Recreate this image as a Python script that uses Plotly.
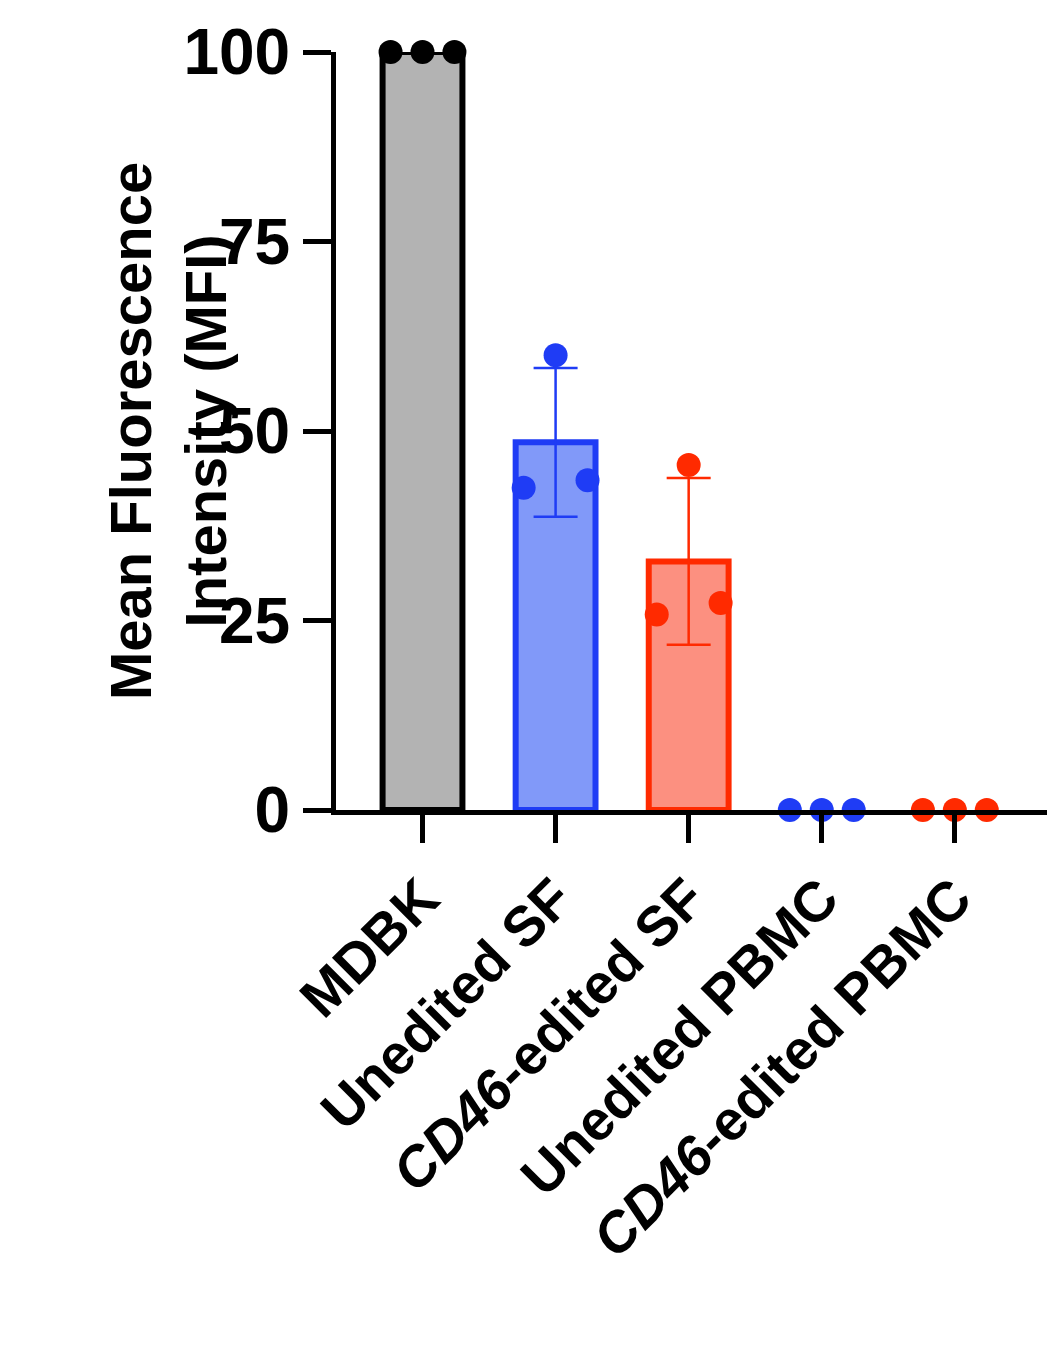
import plotly.graph_objects as go

categories = ["MDBK", "Unedited SF", "<i>CD46</i>-edited SF", "Unedited PBMC", "<i>CD46</i>-edited PBMC"]
means = [100, 48.5, 32.8, 0, 0]
sds = [0, 9.8, 11.0, 0, 0]
points = [[100, 100, 100], [42.5, 60, 43.5], [25.8, 45.5, 27.3], [0, 0, 0], [0, 0, 0]]
fills = ["#b3b3b3", "#8199f9", "#fc9080", "rgba(0,0,0,0)", "rgba(0,0,0,0)"]
lines = ["#000000", "#1f3cf5", "#ff2a00", "#1f3cf5", "#ff2a00"]

fig = go.Figure()
for i in range(len(categories)):
    if means[i] > 0:
        fig.add_trace(go.Bar(x=[i], y=[means[i]], width=0.6, marker=dict(color=fills[i], line=dict(color=lines[i], width=6)),
                             error_y=dict(type="data", array=[sds[i]], color=lines[i], thickness=2.5, width=22, visible=sds[i] > 0),
                             showlegend=False))
for i in range(len(categories)):
    fig.add_trace(go.Scatter(x=[i - 0.24, i, i + 0.24], y=points[i], mode="markers", cliponaxis=False,
                             marker=dict(color=lines[i], size=24), showlegend=False))

fig.update_layout(
    width=1055, height=1346, plot_bgcolor="white", paper_bgcolor="white",
    margin=dict(l=328, r=15, t=44, b=544),
    font=dict(family="Liberation Sans", color="black"),
    xaxis=dict(range=[-0.65, 4.7], tickvals=list(range(5)), ticktext=["<b>%s</b>" % c for c in categories],
               tickangle=-45, tickfont=dict(size=56, family="Liberation Sans"), showline=True, linecolor="black", linewidth=5,
               ticks="outside", ticklen=28, tickwidth=5, tickcolor="black", showgrid=False, zeroline=False, automargin=False),
    yaxis=dict(range=[0, 100], tickvals=[0, 25, 50, 75, 100], ticktext=["<b>%d</b>" % v for v in [0, 25, 50, 75, 100]],
               tickfont=dict(size=64, family="Liberation Sans"), showline=True, linecolor="black", linewidth=5,
               ticks="outside", ticklen=28, tickwidth=5, tickcolor="black", showgrid=False, zeroline=False, automargin=False),
    annotations=[dict(text="<b>Mean Fluorescence<br>Intensity (MFI)</b>", xref="paper", yref="paper", x=-0.337, y=0.5,
                      textangle=-90, showarrow=False, font=dict(size=58, family="Liberation Sans"))],
)
fig.write_html("out.html")
